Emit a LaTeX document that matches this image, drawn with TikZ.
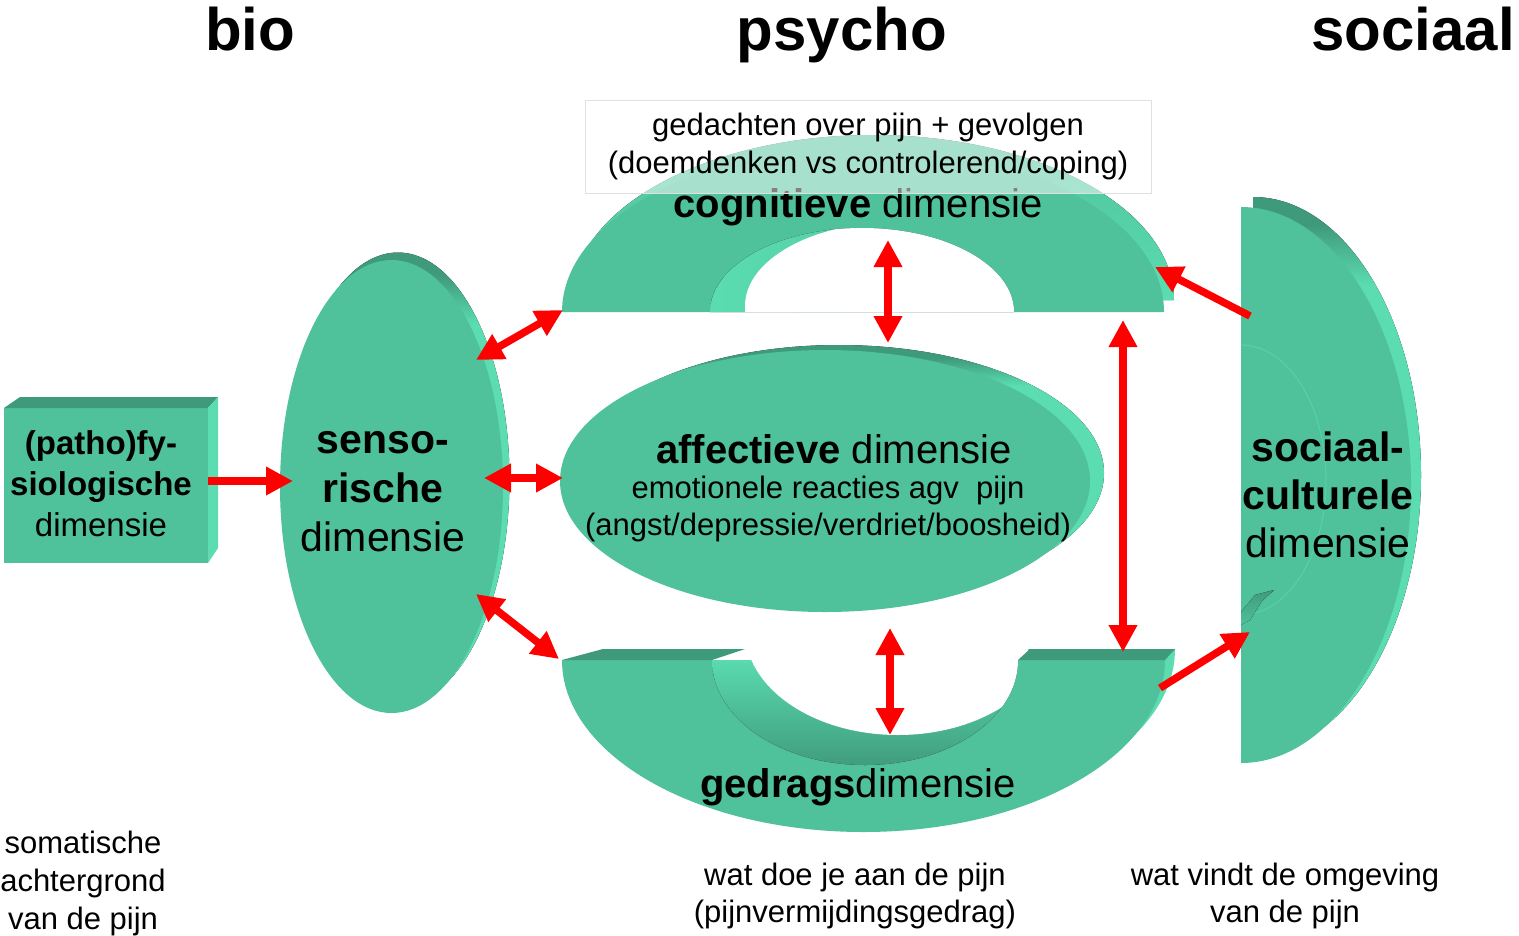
\documentclass[tikz,border=0pt]{standalone}
\usepackage{fontspec}
\setmainfont{Liberation Sans}
\usetikzlibrary{arrows.meta}
\definecolor{gmain}{HTML}{4FC19B}
\definecolor{glight}{HTML}{5BDDB1}
\definecolor{gdark}{HTML}{3F9A7B}
\definecolor{arrred}{HTML}{FF0000}
\pgfdeclareverticalshading{rimv}{100bp}{color(0bp)=(glight); color(67bp)=(glight); color(72.5bp)=(gdark); color(100bp)=(gdark)}
\newcommand\fsz[2]{\fontsize{#1}{#2}\selectfont}
\tikzset{
  face/.style={fill=gmain},
  rimshade/.style={shading=rimv},
  topface/.style={fill=gdark},
  sideface/.style={fill=glight},
  lbl/.style={inner sep=0pt, align=center, text=black},
  duallink/.style={draw=arrred, line width=7.5pt, {Triangle[length=27pt,width=27pt]}-{Triangle[length=27pt,width=27pt]}},
  onelink/.style={draw=arrred, line width=7.5pt, -{Triangle[length=27pt,width=27pt]}},
}
\begin{document}
\begin{tikzpicture}[x=1pt,y=-1pt]
\useasboundingbox (0,0) rectangle (1519,935);
\fill[white] (0,0) rectangle (1519,935);

% ---------- (patho)fysiologische box ----------
\fill[face] (4,408) rectangle (208,563);
\fill[topface] (4,408) -- (20,397) -- (218,397) -- (208,408) -- cycle;
\fill[sideface] (208,408) -- (218,397) -- (218,548) -- (208,563) -- cycle;

% ---------- sensorische disc ----------
\fill[rimshade] (398,479) ellipse [x radius=111.5pt, y radius=226.5pt];
\fill[face] (391.5,486.5) ellipse [x radius=111.5pt, y radius=226.5pt];

% ---------- affectieve disc ----------
\fill[rimshade] (839,473) ellipse [x radius=265pt, y radius=128pt];
\fill[face] (825,481) ellipse [x radius=265pt, y radius=131pt];

% ---------- cognitieve arch ----------
\begin{scope}[shift={(10,-12)}]
\fill[top color=gmain, bottom color=glight] (562,312) arc[start angle=180,end angle=0,x radius=301pt,y radius=165pt] -- (1014,312) arc[start angle=0,end angle=180,x radius=152pt,y radius=84pt] -- cycle;
\end{scope}
\fill[face] (562,312) arc[start angle=180,end angle=0,x radius=301pt,y radius=165pt] -- (1014,312) arc[start angle=0,end angle=180,x radius=152pt,y radius=84pt] -- cycle;
\begin{scope}
\clip (710,312) arc[start angle=180,end angle=0,x radius=152pt,y radius=84pt] -- cycle;
\fill[left color=glight, right color=gmain] (700,220) rectangle (1020,315);
\fill[white] (745,320) -- (745,306) arc[start angle=180,end angle=0,x radius=152pt,y radius=84pt] -- (1049,320) -- cycle;
\end{scope}

% ---------- gedrags arch ----------
\begin{scope}
\clip (1000,600) rectangle (1200,850);
\begin{scope}[shift={(10,-11)}]
\fill[sideface] (562,660) arc[start angle=180,end angle=360,x radius=301.5pt,y radius=172pt] -- (1018,660) arc[start angle=360,end angle=180,x radius=153pt,y radius=105pt] -- cycle;
\end{scope}
\end{scope}
\fill[face] (562,660) arc[start angle=180,end angle=360,x radius=301.5pt,y radius=172pt] -- (1018,660) arc[start angle=360,end angle=180,x radius=153pt,y radius=105pt] -- cycle;
\fill[topface] (562,660) -- (603,649) -- (745,649) -- (712,660) -- cycle;
\fill[topface] (1018,660) -- (1030,649) -- (1175,649) -- (1165,660) -- cycle;
\begin{scope}
\clip (712,660) arc[start angle=180,end angle=360,x radius=153pt,y radius=105pt] -- cycle;
\fill[top color=glight, bottom color=gdark] (700,655) rectangle (1025,770);
\fill[white] (745,600) -- (745,630) arc[start angle=180,end angle=360,x radius=153pt,y radius=105pt] -- (1051,600) -- cycle;
\end{scope}

% ---------- sociaal-culturele half disc ----------
\fill[rimshade] (1253,197) arc[start angle=90,end angle=-90,x radius=168pt,y radius=278pt] -- cycle;
\fill[face] (1241,207) arc[start angle=90,end angle=-90,x radius=170pt,y radius=278pt] -- cycle;
\draw[glight!55!gmain, line width=1.2pt] (1241,345) arc[start angle=90,end angle=-90,x radius=85pt,y radius=135pt];
\fill[top color=gdark, bottom color=gmain] (1241,625) -- (1241,612) -- (1255,595) -- (1274,590) -- (1262,601) -- (1250,620) -- cycle;

% ---------- texts ----------
\node[lbl, anchor=base, font=\fsz{60}{72}\bfseries] (tbio) at (250,50) {bio};
\node[lbl, anchor=base, font=\fsz{60}{72}\bfseries] (tpsy) at (842,50) {psycho};
\node[lbl, anchor=base, font=\fsz{60}{72}\bfseries] (tsoc) at (1413,50) {sociaal};

\node[lbl, font=\fsz{33}{41}] (fys) at (101,484) {\textbf{(patho)fy-}\\\textbf{siologische}\\dimensie};
\node[lbl, font=\fsz{41}{49}] (sens) at (383,492) {\textbf{senso-}\\\textbf{rische}\\dimensie};
\node[lbl, font=\fsz{41}{48}] (socd) at (1328,495) {\textbf{sociaal-}\\\textbf{culturele}\\dimensie};
\node[lbl, anchor=base, font=\fsz{40}{48}] (afft) at (834,463) {\textbf{affectieve} dimensie};
\node[lbl, font=\fsz{31}{37}] (affd) at (828,509) {emotionele reacties agv\ \ pijn\\(angst/depressie/verdriet/boosheid)};
\node[lbl, anchor=base, font=\fsz{40}{48}] (cogt) at (858,217) {\textbf{cognitieve} dimensie};
\node[lbl, font=\fsz{31}{38}, minimum width=566pt, minimum height=93pt, fill=white, fill opacity=0.5, text opacity=1, draw=black!12, line width=0.8pt] (cogd) at (868,146.5) {gedachten over pijn + gevolgen\\(doemdenken vs controlerend/coping)};
\node[lbl, anchor=base, font=\fsz{40}{48}] (gedt) at (858,797) {\textbf{gedrags}dimensie};

\node[lbl, font=\fsz{31}{38}] (bsom) at (83,883) {somatische\\achtergrond\\van de pijn};
\node[lbl, font=\fsz{31}{37}] (bged) at (855,896) {wat doe je aan de pijn\\(pijnvermijdingsgedrag)};
\node[lbl, font=\fsz{31}{37}] (bsoc) at (1285,896) {wat vindt de omgeving\\van de pijn};

% ---------- connector end points ----------
\coordinate (pA) at (208,481);  \coordinate (sL) at (293,481);
\coordinate (sR) at (484,478);  \coordinate (aL) at (563,478);
\coordinate (sUR) at (476,360); \coordinate (cL) at (563,310);
\coordinate (sLR) at (476,594); \coordinate (gL) at (559,659);
\coordinate (cB) at (888,240);  \coordinate (aT) at (888,343);
\coordinate (aB) at (890,628);  \coordinate (gT) at (890,735);
\coordinate (cR) at (1123,320); \coordinate (gR) at (1123,652);
\coordinate (soU) at (1250,316); \coordinate (cRR) at (1155,267);
\coordinate (gRR) at (1160,688); \coordinate (soL) at (1250,632);

% ---------- connectors ----------
\draw[onelink] (pA) -- (sL);
\draw[duallink] (sR) -- (aL);
\draw[duallink] (sUR) -- (cL);
\draw[duallink] (sLR) -- (gL);
\draw[duallink] (cB) -- (aT);
\draw[duallink] (aB) -- (gT);
\draw[duallink] (cR) -- (gR);
\draw[onelink] (soU) -- (cRR);
\draw[onelink] (gRR) -- (soL);
\end{tikzpicture}
\end{document}
